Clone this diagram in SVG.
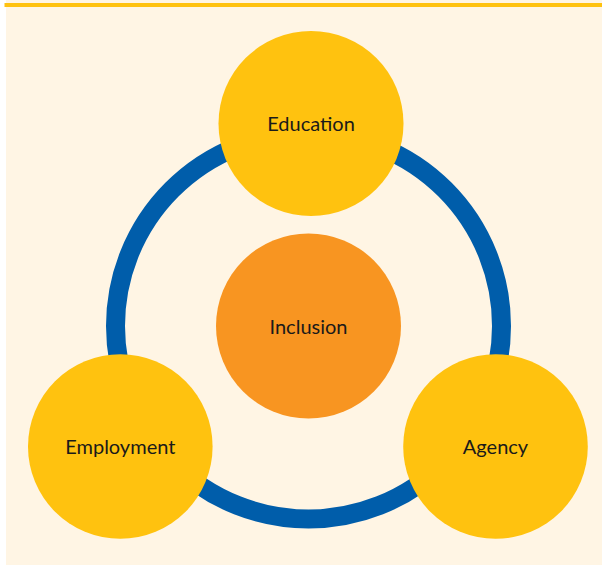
<svg xmlns="http://www.w3.org/2000/svg" width="602" height="565" viewBox="0 0 602 565">
  <defs>
    <style>
      .node { fill: #FFC20F; }
      .hub { fill: #F89521; }
      .label { font-family: Lato, "Liberation Sans", sans-serif; font-size: 20px; fill: #1A1A1A; text-anchor: middle; }
    </style>
  </defs>
  <rect x="0" y="0" width="602" height="565" fill="#FFFFFF"/>
  <rect x="6" y="0" width="596" height="565" fill="#FFF5E4"/>
  <rect x="4.5" y="3" width="597.5" height="4" fill="#FFC20F"/>

  <g id="connectors">
    <circle cx="308.5" cy="326" r="193" fill="none" stroke="#005DAA" stroke-width="19"/>
  </g>

  <g id="inclusion">
    <circle class="hub" cx="308.5" cy="326" r="92.5"/>
    <text class="label" x="308.5" y="334">Inclusion</text>
  </g>
  <g id="education">
    <circle class="node" cx="311" cy="123.5" r="92.5"/>
    <text class="label" x="311" y="131">Education</text>
  </g>
  <g id="employment">
    <circle class="node" cx="120.3" cy="446.5" r="92.3"/>
    <text class="label" x="120.3" y="453.5">Employment</text>
  </g>
  <g id="agency">
    <circle class="node" cx="495.5" cy="446.5" r="92.3"/>
    <text class="label" x="495.5" y="453.5">Agency</text>
  </g>
</svg>
